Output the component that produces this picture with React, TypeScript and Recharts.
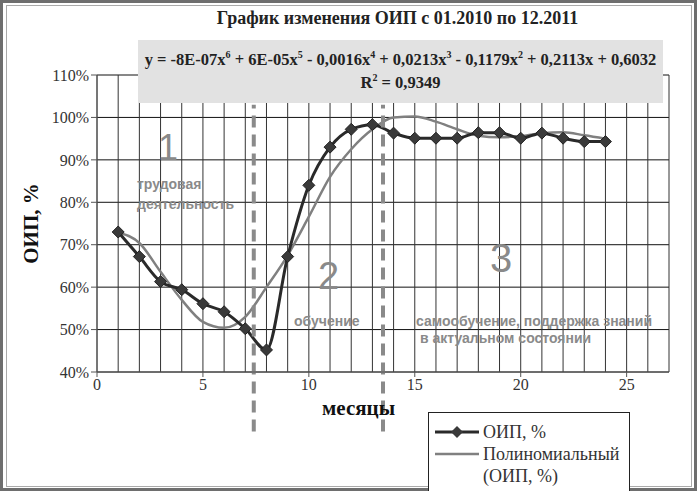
import { LineChart, Line, XAxis, YAxis, ReferenceLine, Label } from 'recharts';

const months = [1, 2, 3, 4, 5, 6, 7, 8, 9, 10, 11, 12, 13, 14, 15, 16, 17, 18, 19, 20, 21, 22, 23, 24];
const oip = [73, 67.2, 61.3, 59.4, 56.1, 54.2, 50.2, 45.2, 67.2, 84, 93, 97.2, 98.3, 96.3, 95.1, 95.1, 95.1, 96.4, 96.4, 95.1, 96.3, 95.1, 94.3, 94.3];
const trend = [72.9, 70.4, 63.6, 57, 51.8, 50.4, 53, 60, 67.5, 76.6, 86, 92.5, 97.2, 100, 100.2, 99, 97.2, 95.7, 95.3, 95.6, 96.3, 96.5, 95.8, 95];

const xTicks = [0, 5, 10, 15, 20, 25];
const yTicks = [40, 50, 60, 70, 80, 90, 100, 110];
const xGrid = Array.from({ length: 28 }, (_, i) => i);
const stageBounds = [7.4, 13.5];

const data = months.map((m, i) => ({ month: m, oip: oip[i], trend: trend[i] }));

const serif = "'Liberation Serif', 'Times New Roman', serif";
const sans = "'Liberation Sans', Arial, sans-serif";

const Diamond = (props: any) => {
  const { cx, cy } = props;
  if (cx == null || cy == null) return null;
  const r = 6;
  return (
    <polygon
      points={`${cx},${cy - r} ${cx + r},${cy} ${cx},${cy + r} ${cx - r},${cy}`}
      fill="#3a3a3a"
      stroke="#222"
      strokeWidth={1}
    />
  );
};

const note = (left: number, top: number, size: number, text: string, bold = false, lh = 1.1) => (
  <div
    style={{
      position: 'absolute',
      left,
      top,
      fontFamily: sans,
      fontSize: size,
      fontWeight: bold ? 'bold' : 'normal',
      color: '#8a8a8a',
      lineHeight: lh,
      whiteSpace: 'pre',
    }}
  >
    {text}
  </div>
);

export default function App() {
  return (
    <div
      style={{
        position: 'absolute',
        left: 0,
        top: 0,
        width: 697,
        height: 491,
        background: '#fff',
        overflow: 'hidden',
      }}
    >
      <div
        style={{
          position: 'absolute',
          left: 0,
          top: 0,
          width: 691,
          height: 485,
          border: '3px solid #6e6e6e',
        }}
      />
      <div
        style={{
          position: 'absolute',
          left: 6,
          top: 5,
          width: 684,
          height: 480,
          border: '1px solid #aaa',
        }}
      />
      <div
        style={{
          position: 'absolute',
          left: 94,
          top: 8,
          width: 607,
          textAlign: 'center',
          fontFamily: serif,
          fontWeight: 'bold',
          fontSize: 18,
          color: '#222',
        }}
      >
        График изменения ОИП с 01.2010 по 12.2011
      </div>
      <LineChart
        width={697}
        height={491}
        data={data}
        margin={{ top: 75, right: 28, bottom: 89, left: 37 }}
        style={{ position: 'absolute', left: 0, top: 0 }}
      >
        {yTicks.map((t) => (
          <ReferenceLine key={'h' + t} y={t} stroke="#111" strokeWidth={1} />
        ))}
        {xGrid.map((t) => (
          <ReferenceLine key={'v' + t} x={t} stroke="#333" strokeWidth={1} />
        ))}
        <XAxis
          dataKey="month"
          type="number"
          domain={[0, 27]}
          ticks={xTicks}
          height={30}
          stroke="#555"
          tickLine={{ stroke: '#555' }}
          tickSize={5}
          tick={{ fontFamily: serif, fontSize: 16, fill: '#333' }}
        />
        <YAxis
          type="number"
          domain={[40, 110]}
          ticks={yTicks}
          width={60}
          stroke="#555"
          tickSize={6}
          tickFormatter={(v: number) => `${v}%`}
          tick={{ fontFamily: serif, fontSize: 16, fill: '#333' }}
        >
          <Label
            value="ОИП, %"
            angle={-90}
            position="insideLeft"
            offset={-6}
            style={{ fontFamily: serif, fontSize: 21, fontWeight: 'bold', fill: '#111', textAnchor: 'middle' }}
          />
        </YAxis>
        <Line
          dataKey="trend"
          type="monotone"
          stroke="#808080"
          strokeWidth={2.5}
          dot={false}
          isAnimationActive={false}
        />
        <Line
          dataKey="oip"
          type="monotone"
          stroke="#2a2a2a"
          strokeWidth={3}
          dot={<Diamond />}
          isAnimationActive={false}
        />
        {stageBounds.map((b) => (
          <ReferenceLine
            key={'s' + b}
            segment={[{ x: b, y: 26 }, { x: b, y: 103 }]}
            ifOverflow="visible"
            stroke="#8a8a8a"
            strokeWidth={4}
            strokeDasharray="12 7"
          />
        ))}
      </LineChart>
      <div
        style={{
          position: 'absolute',
          left: 138,
          top: 40,
          width: 525,
          height: 63,
          background: '#e2e2e2',
          fontFamily: serif,
          fontWeight: 'bold',
          fontSize: 16.5,
          color: '#222',
          textAlign: 'center',
          whiteSpace: 'nowrap',
        }}
      >
        <div style={{ marginTop: 9 }}>
          y = -8E-07x<sup style={{ fontSize: 10 }}>6</sup> + 6E-05x<sup style={{ fontSize: 10 }}>5</sup> - 0,0016x
          <sup style={{ fontSize: 10 }}>4</sup> + 0,0213x<sup style={{ fontSize: 10 }}>3</sup> - 0,1179x
          <sup style={{ fontSize: 10 }}>2</sup> + 0,2113x + 0,6032
        </div>
        <div style={{ marginTop: 2 }}>
          R<sup style={{ fontSize: 10 }}>2</sup> = 0,9349
        </div>
      </div>
      <div
        style={{
          position: 'absolute',
          left: 322,
          top: 396,
          fontFamily: serif,
          fontWeight: 'bold',
          fontSize: 21,
          color: '#111',
        }}
      >
        месяцы
      </div>
      {note(158, 128, 36, '1')}
      {note(137, 175, 14, 'трудовая\nдеятельность', true, 1.4)}
      {note(318, 256, 38, '2')}
      {note(294, 314, 14, 'обучение', true)}
      {note(490, 236, 40, '3')}
      {note(416, 313, 14, 'самообучение, поддержка знаний\n в актуальном состоянии', true, 1.2)}
      <div
        style={{
          position: 'absolute',
          left: 428,
          top: 412,
          width: 200,
          height: 90,
          border: '1px solid #222',
          background: '#fff',
          fontFamily: serif,
          fontSize: 18,
          color: '#333',
          lineHeight: '22px',
        }}
      >
        <div style={{ display: 'flex', alignItems: 'center', marginTop: 8 }}>
          <svg width={48} height={20} style={{ marginLeft: 6 }}>
            <line x1={0} y1={10} x2={44} y2={10} stroke="#2a2a2a" strokeWidth={3} />
            <polygon points="22,4 28,10 22,16 16,10" fill="#3a3a3a" />
          </svg>
          <span>ОИП, %</span>
        </div>
        <div style={{ display: 'flex', alignItems: 'flex-start' }}>
          <svg width={48} height={22} style={{ marginLeft: 6 }}>
            <line x1={0} y1={11} x2={44} y2={11} stroke="#808080" strokeWidth={2.5} />
          </svg>
          <span>
            Полиномиальный
            <br />
            (ОИП, %)
          </span>
        </div>
      </div>
    </div>
  );
}
